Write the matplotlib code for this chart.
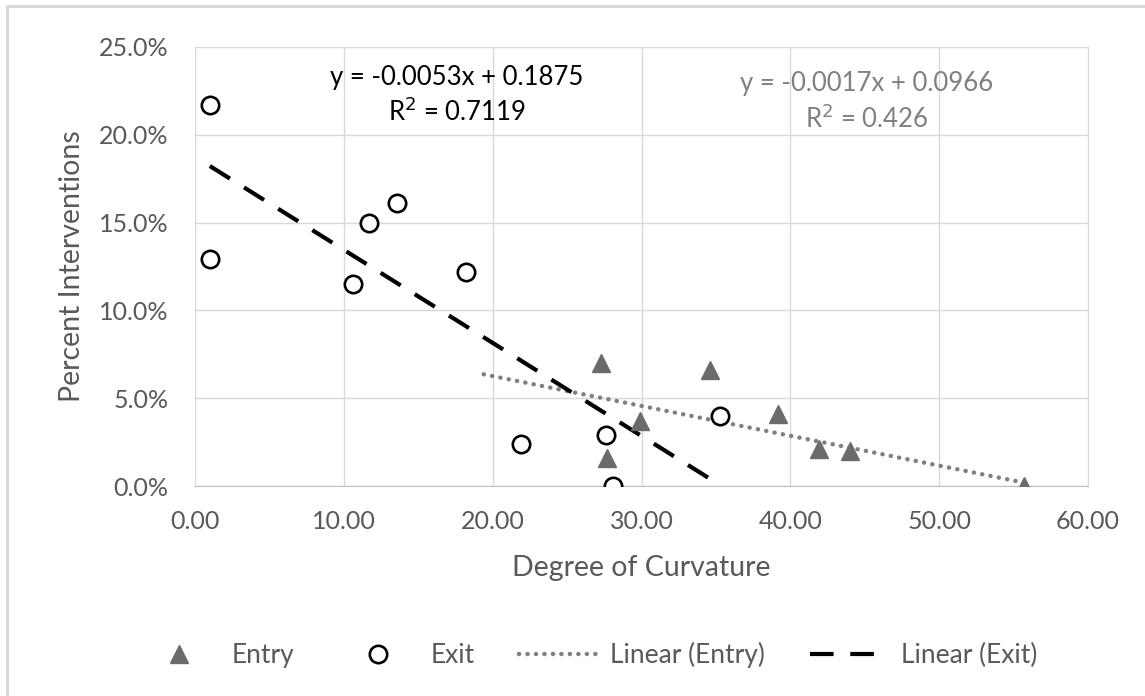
import numpy as np
import matplotlib
matplotlib.use("Agg")
import matplotlib.pyplot as plt
from matplotlib.lines import Line2D
from matplotlib.ticker import PercentFormatter, MultipleLocator

plt.rcParams['font.family'] = ['Lato', 'DejaVu Sans']
plt.rcParams['lines.scale_dashes'] = False

# Data
entry_x = [27.3, 34.6, 29.9, 27.7, 39.2, 41.9, 44.0, 55.7]
entry_y = [0.070, 0.066, 0.037, 0.016, 0.041, 0.021, 0.020, 0.000]

exit_x = [1.0, 1.0, 10.6, 11.7, 13.6, 18.2, 21.9, 27.6, 28.1, 35.3]
exit_y = [0.217, 0.129, 0.115, 0.150, 0.161, 0.122, 0.024, 0.029, 0.000, 0.040]

# Trendline equations as printed on the chart, and the x span they cover
entry_slope, entry_icept, entry_r2 = -0.0017, 0.0966, 0.426
exit_slope, exit_icept, exit_r2 = -0.0053, 0.1875, 0.7119
entry_span = [19.4, 55.7]
exit_span = [1.0, 35.3]

grey = '#6b6b6b'
text_grey = '#595959'
dot_style = dict(color='#7f7f7f', lw=3.2, dashes=(0.1, 6.0), dash_capstyle='round')
dash_style = dict(color='black', lw=3.0, dashes=(17, 12))

fig = plt.figure(figsize=(11.45, 6.96), dpi=100)
ax = fig.add_axes([195/1145, 1 - 486/696, (1088 - 195)/1145, (486 - 47)/696])

# trendlines
ex = np.array(entry_span)
ax.plot(ex, entry_slope*ex + entry_icept, zorder=2, **dot_style)
xx = np.array(exit_span)
ax.plot(xx, exit_slope*xx + exit_icept, zorder=2, **dash_style)

# markers
ax.plot(entry_x, entry_y, ls='none', marker='^', ms=13, color=grey,
        mec=grey, zorder=3)
ax.plot(exit_x, exit_y, ls='none', marker='o', ms=12.5, mfc='white',
        mec='black', mew=1.9, zorder=3)

ax.set_xlim(0, 60)
ax.set_ylim(0, 0.25)
ax.xaxis.set_major_locator(MultipleLocator(10))
ax.yaxis.set_major_locator(MultipleLocator(0.05))
ax.xaxis.set_major_formatter(lambda v, p: f"{v:.2f}")
ax.yaxis.set_major_formatter(PercentFormatter(xmax=1, decimals=1))
ax.grid(True, color='#d9d9d9', lw=1.0, zorder=0)
ax.set_axisbelow(True)
for s in ax.spines.values():
    s.set_color('#d9d9d9')
ax.spines['bottom'].set_color('#bfbfbf')
ax.tick_params(length=0, labelsize=18, colors=text_grey)
ax.tick_params(axis='y', pad=19)
ax.tick_params(axis='x', pad=17)

ax.set_xlabel("Degree of Curvature", fontsize=20.5, color=text_grey, labelpad=16)
ax.set_ylabel("Percent Interventions", fontsize=20.5, color=text_grey, labelpad=10)

# regression labels
ax.text(17.6, 0.2326, f"y = {exit_slope:.4f}x + {exit_icept}", ha='center',
        va='center', fontsize=18.5, color='black')
ax.text(17.6, 0.2134, f"R$^2$ = {exit_r2}", ha='center', va='center',
        fontsize=18.5, color='black')
ax.text(45.1, 0.229, f"y = {entry_slope:.4f}x + {entry_icept}", ha='center',
        va='center', fontsize=18.5, color='#808080')
ax.text(45.1, 0.209, f"R$^2$ = {entry_r2}", ha='center', va='center',
        fontsize=18.5, color='#808080')

handles = [
    Line2D([], [], ls='none', marker='^', ms=13, color=grey),
    Line2D([], [], ls='none', marker='o', ms=12.5, mfc='white', mec='black', mew=1.9),
    Line2D([], [], **dot_style),
    Line2D([], [], **dash_style),
]
labels = ["Entry", "Exit", "Linear (Entry)", "Linear (Exit)"]
fig.legend(handles, labels, loc='center', bbox_to_anchor=(589/1145, 1 - 655/696),
           ncol=4, frameon=False, fontsize=19, labelcolor=text_grey,
           handlelength=2.95, handletextpad=0.5, columnspacing=1.7)

# chart area border (Excel-style)
fig.add_artist(Line2D([7/1145, 7/1145], [-0.1, 1 - 6/696], color='#d9d9d9', lw=2.2,
                      transform=fig.transFigure))
fig.add_artist(Line2D([7/1145, 1.1], [1 - 6/696, 1 - 6/696], color='#d9d9d9', lw=2.2,
                      transform=fig.transFigure))

fig.savefig("out.png", dpi=100)
